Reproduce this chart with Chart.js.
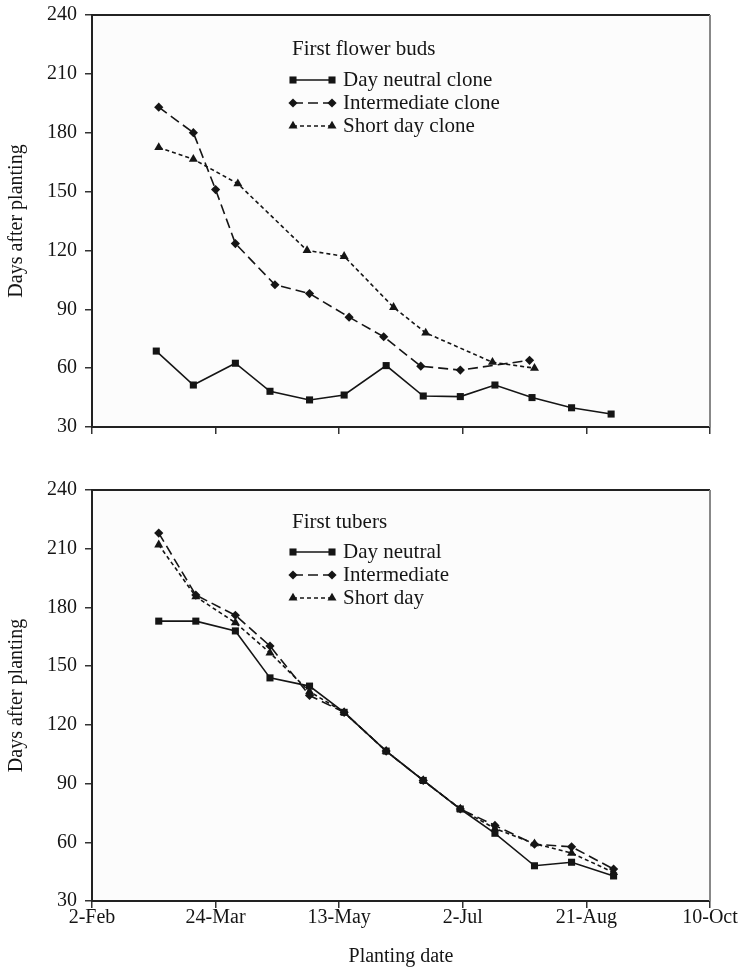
<!DOCTYPE html>
<html lang="en">
<head>
<meta charset="UTF-8">
<meta name="viewport" content="width=device-width, initial-scale=1.0">
<title>Days after planting</title>
<script src="https://cdn.jsdelivr.net/npm/chart.js@4.4.0/dist/chart.umd.min.js"></script>
<style>
    body { margin: 0; background: #fff; }
    .box { position: relative; width: 742px; }
    #top { height: 440px; }
    #bottom { height: 529px; }
</style>
</head>
<body>
<div class="box" id="top"><canvas id="budsChart"></canvas></div>
<div class="box" id="bottom"><canvas id="tubersChart"></canvas></div>
<script>
    // planting date is kept as day of year (2-Feb = 33)
    const tickDays = [33, 83, 133, 183, 233, 283];
    const tickLabels = ['2-Feb', '24-Mar', '13-May', '2-Jul', '21-Aug', '10-Oct'];
    const yMin = 30, yMax = 240, yStep = 30;

    const seriesNames = ['Day neutral', 'Intermediate', 'Short day'];

    // first flower buds
    const budsNeutralDays = [59, 74, 91, 105, 121, 135, 152, 167, 182, 196, 211, 227, 243];
    const budsNeutral = [68.7, 51.4, 62.5, 48.2, 43.8, 46.3, 61.3, 45.8, 45.5, 51.4, 45, 39.8, 36.6];
    const budsInterDays = [60, 74, 83, 91, 107, 121, 137, 151, 166, 182, 210];
    const budsInter = [193, 180, 151, 123.5, 102.5, 98, 86, 76, 61, 59, 64];
    const budsShortDays = [60, 74, 92, 120, 135, 155, 168, 195, 212];
    const budsShort = [172.5, 166.5, 154, 120, 117, 91, 78, 63, 60];

    // first tubers
    const tubersDays = [60, 75, 91, 105, 121, 135, 152, 167, 182, 196, 212, 227, 244];
    const tubersNeutral = [173, 173, 168, 144, 139.8, 126.4, 106.6, 91.6, 77, 64.6, 48, 49.8, 42.8];
    const tubersInter = [218, 186.3, 176, 160.3, 135, 126.4, 106.6, 91.6, 77, 68.6, 59, 57.7, 46.3];
    const tubersShort = [212, 185.5, 172.2, 156.8, 137, 126.4, 106.6, 91.6, 77, 67, 59.3, 54.5, 44.6];

    const serif = "'Liberation Serif', 'Times New Roman', serif";
    const ink = '#151515';
    const styles = [
        { dash: [], point: 'rect', r: 5 },
        { dash: [10, 5], point: 'rectRot', r: 4.6 },
        { dash: [4, 3], point: 'triangle', r: 5.2 }
    ];

    function toPoints(days, vals) {
        return days.map(function (d, i) { return { x: d, y: vals[i] }; });
    }

    function makeSet(name, pts, i) {
        return {
            label: name,
            data: pts,
            borderColor: ink,
            backgroundColor: ink,
            borderWidth: 1.6,
            borderDash: styles[i].dash,
            pointStyle: styles[i].point,
            pointRadius: styles[i].r,
            pointBorderWidth: 0,
            pointBackgroundColor: ink,
            tension: 0
        };
    }

    function marker(ctx, kind, x, y, r) {
        ctx.beginPath();
        if (kind === 'rect') {
            const s = r * Math.SQRT1_2;
            ctx.rect(x - s, y - s, 2 * s, 2 * s);
        } else if (kind === 'rectRot') {
            ctx.moveTo(x, y - r); ctx.lineTo(x + r, y); ctx.lineTo(x, y + r); ctx.lineTo(x - r, y);
            ctx.closePath();
        } else {
            ctx.moveTo(x, y - r); ctx.lineTo(x + 0.866 * r, y + 0.5 * r); ctx.lineTo(x - 0.866 * r, y + 0.5 * r);
            ctx.closePath();
        }
        ctx.fill();
    }

    const framePlugin = {
        id: 'frame',
        beforeDraw(chart) {
            const a = chart.chartArea, ctx = chart.ctx;
            ctx.save();
            ctx.fillStyle = '#fcfcfc';
            ctx.fillRect(a.left, a.top, a.right - a.left, a.bottom - a.top);
            ctx.restore();
        },
        afterDraw(chart) {
            const a = chart.chartArea, ctx = chart.ctx;
            ctx.save();
            ctx.lineWidth = 2;
            ctx.strokeStyle = '#222';
            ctx.beginPath(); ctx.moveTo(a.left, a.top); ctx.lineTo(a.right, a.top); ctx.stroke();
            ctx.strokeStyle = '#888';
            ctx.beginPath(); ctx.moveTo(a.right, a.top); ctx.lineTo(a.right, a.bottom); ctx.stroke();
            ctx.restore();
        }
    };

    const legendPlugin = {
        id: 'sketchLegend',
        afterDraw(chart, args, opts) {
            const ctx = chart.ctx;
            ctx.save();
            ctx.font = '21px ' + serif;
            ctx.fillStyle = ink;
            ctx.textBaseline = 'alphabetic';
            ctx.fillText(opts.title, opts.x, opts.titleY);
            chart.data.datasets.forEach(function (ds, i) {
                const y = opts.rows[i];
                ctx.strokeStyle = ink;
                ctx.lineWidth = 1.6;
                ctx.setLineDash(styles[i].dash);
                ctx.beginPath(); ctx.moveTo(opts.x + 1, y); ctx.lineTo(opts.x + 40, y); ctx.stroke();
                ctx.setLineDash([]);
                marker(ctx, styles[i].point, opts.x + 1, y, styles[i].r);
                marker(ctx, styles[i].point, opts.x + 40, y, styles[i].r);
                ctx.fillText(ds.label, opts.x + 51, y + 6);
            });
            ctx.restore();
        }
    };

    function buildChart(id, sets, legend, topPad, xHeight, showX) {
        const ctx = document.getElementById(id).getContext('2d');
        return new Chart(ctx, {
            type: 'line',
            data: { datasets: sets },
            plugins: [framePlugin, legendPlugin],
            options: {
                animation: false,
                responsive: true,
                maintainAspectRatio: false,
                devicePixelRatio: 1,
                layout: { padding: { top: topPad, right: 32, left: 0, bottom: 0 } },
                plugins: {
                    legend: { display: false },
                    tooltip: { enabled: false },
                    sketchLegend: legend
                },
                scales: {
                    x: {
                        type: 'linear',
                        min: tickDays[0],
                        max: tickDays[tickDays.length - 1],
                        afterBuildTicks: function (scale) {
                            scale.ticks = tickDays.map(function (v) { return { value: v }; });
                        },
                        afterFit: function (scale) { scale.height = xHeight; },
                        grid: { drawOnChartArea: false, drawTicks: true, tickLength: 7, color: '#333', lineWidth: 1.5 },
                        border: { color: '#222', width: 2 },
                        ticks: {
                            display: showX,
                            padding: 0,
                            color: ink,
                            font: { family: serif, size: 20, lineHeight: 1 },
                            maxRotation: 0,
                            callback: function (v) { return tickLabels[tickDays.indexOf(v)]; }
                        },
                        title: {
                            display: showX,
                            text: 'Planting date',
                            color: ink,
                            font: { family: serif, size: 20 },
                            padding: { top: 0, bottom: 0 }
                        }
                    },
                    y: {
                        min: yMin,
                        max: yMax,
                        afterFit: function (scale) { scale.width = 92; },
                        grid: { drawOnChartArea: false, drawTicks: true, tickLength: 7, color: '#333', lineWidth: 1.5 },
                        border: { color: '#222', width: 2 },
                        ticks: {
                            stepSize: yStep,
                            padding: 8,
                            color: ink,
                            font: { family: serif, size: 20, lineHeight: 0.4 }
                        },
                        title: {
                            display: true,
                            text: 'Days after planting',
                            color: ink,
                            font: { family: serif, size: 20 },
                            padding: { top: 5, bottom: 0 }
                        }
                    }
                }
            }
        });
    }

    buildChart('budsChart', [
        makeSet(seriesNames[0] + ' clone', toPoints(budsNeutralDays, budsNeutral), 0),
        makeSet(seriesNames[1] + ' clone', toPoints(budsInterDays, budsInter), 1),
        makeSet(seriesNames[2] + ' clone', toPoints(budsShortDays, budsShort), 2)
    ], { title: 'First flower buds', x: 292, titleY: 55, rows: [80, 103, 126] }, 15, 13, false);

    buildChart('tubersChart', [
        makeSet(seriesNames[0], toPoints(tubersDays, tubersNeutral), 0),
        makeSet(seriesNames[1], toPoints(tubersDays, tubersInter), 1),
        makeSet(seriesNames[2], toPoints(tubersDays, tubersShort), 2)
    ], { title: 'First tubers', x: 292, titleY: 88, rows: [112, 135, 158] }, 50, 68, true);
</script>
</body>
</html>
